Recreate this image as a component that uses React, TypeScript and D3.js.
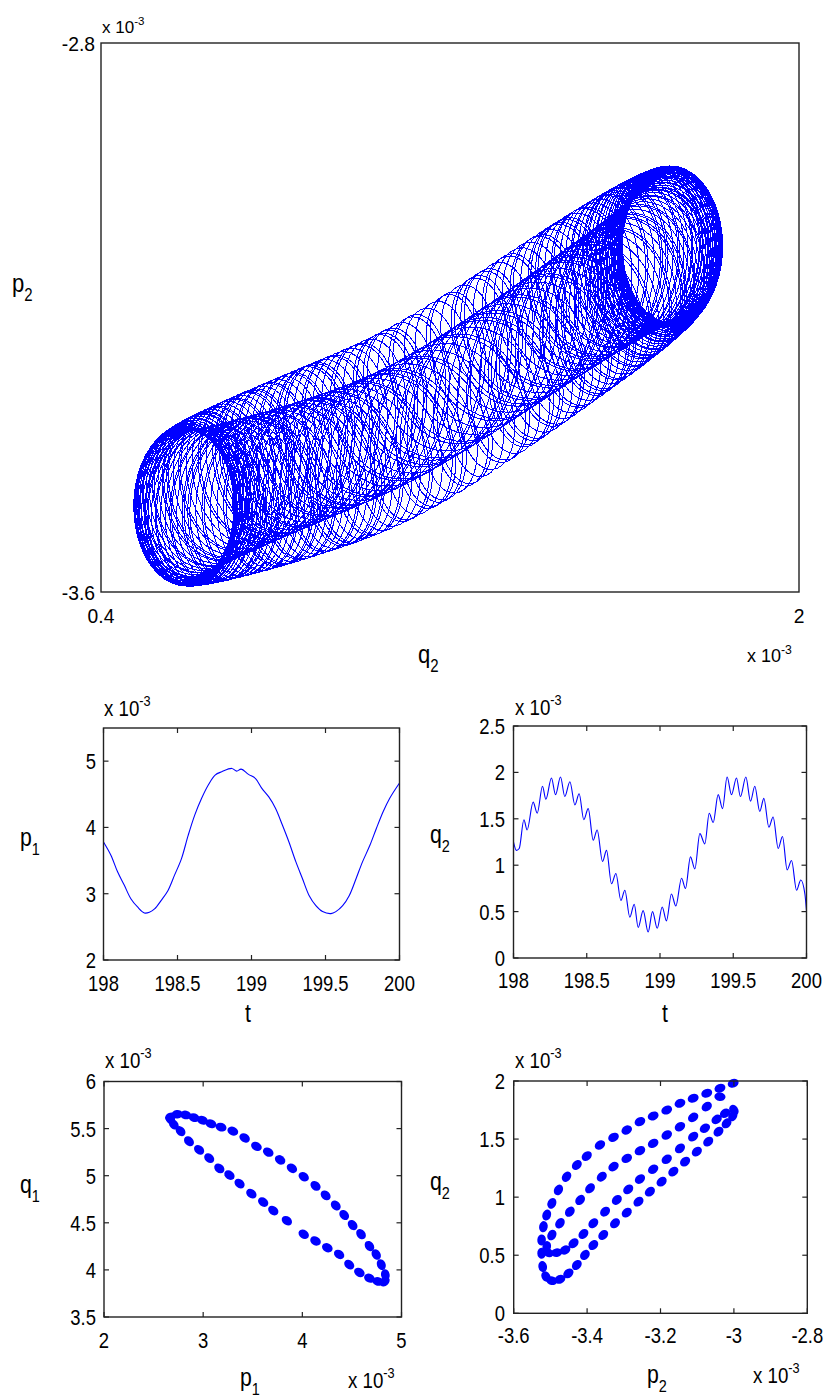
import React from 'react';
import * as d3 from 'd3';

const BLUE = '#0000ff';
const FONT = '"Liberation Sans", Arial, Helvetica, sans-serif';

// ---------- top panel: quasi-periodic tube, parameters ----------
const tubeMidQ2 = [0.59, 0.78, 0.93, 1.09, 1.31, 1.47, 1.62, 1.71];
const tubeMidP2 = [-3.475, -3.433, -3.398, -3.358, -3.269, -3.198, -3.135, -3.096];
const tubeLoopHalf = [0.115, 0.114]; // half extent of the fast loop in q2, p2
const tubeHalfSeparation = [0.028];
const tubeSlowPeriods = [12];
const tubeFastPerSlow = [19.37];

// ---------- middle left: p1(t) ----------
const tP1 = [198.0, 198.05, 198.095, 198.14, 198.186, 198.23, 198.277, 198.31, 198.345, 198.39, 198.436, 198.48, 198.527, 198.572, 198.617, 198.663, 198.708, 198.754, 198.799, 198.867, 198.9, 198.93, 198.98, 199.026, 199.07, 199.117, 199.162, 199.208, 199.253, 199.3, 199.344, 199.39, 199.435, 199.48, 199.537, 199.57, 199.616, 199.66, 199.707, 199.75, 199.8, 199.843, 199.89, 199.934, 200.0];
const p1Vals = [3.78, 3.58, 3.33, 3.13, 2.92, 2.8, 2.71, 2.72, 2.77, 2.9, 3.05, 3.28, 3.53, 3.88, 4.19, 4.44, 4.64, 4.79, 4.84, 4.89, 4.85, 4.88, 4.8, 4.74, 4.59, 4.46, 4.29, 4.04, 3.78, 3.48, 3.23, 2.97, 2.82, 2.73, 2.7, 2.73, 2.82, 2.97, 3.23, 3.48, 3.73, 3.98, 4.24, 4.44, 4.67];

// ---------- middle right: q2(t) ----------
const tQ2 = [198.0, 198.02, 198.039, 198.071, 198.093, 198.134, 198.162, 198.198, 198.221, 198.259, 198.287, 198.321, 198.35, 198.385, 198.419, 198.448, 198.48, 198.51, 198.544, 198.571, 198.608, 198.635, 198.669, 198.699, 198.733, 198.76, 198.794, 198.824, 198.851, 198.885, 198.919, 198.949, 198.981, 199.015, 199.044, 199.078, 199.108, 199.147, 199.174, 199.208, 199.238, 199.272, 199.306, 199.336, 199.363, 199.397, 199.427, 199.458, 199.488, 199.522, 199.549, 199.586, 199.618, 199.647, 199.681, 199.709, 199.743, 199.772, 199.807, 199.836, 199.868, 199.898, 199.932, 199.961, 199.989, 200.0];
const q2Vals = [1.25, 1.16, 1.18, 1.49, 1.38, 1.68, 1.56, 1.85, 1.71, 1.94, 1.76, 1.95, 1.74, 1.9, 1.65, 1.77, 1.49, 1.61, 1.27, 1.38, 1.04, 1.16, 0.8, 0.91, 0.62, 0.73, 0.44, 0.58, 0.33, 0.51, 0.28, 0.5, 0.32, 0.55, 0.4, 0.69, 0.56, 0.86, 0.75, 1.09, 0.96, 1.34, 1.23, 1.56, 1.46, 1.76, 1.61, 1.95, 1.76, 1.94, 1.74, 1.95, 1.69, 1.85, 1.58, 1.72, 1.41, 1.52, 1.18, 1.31, 0.95, 1.05, 0.73, 0.84, 0.69, 0.51];

// ---------- bottom left: q1 vs p1 markers ----------
const p1Pts = [2.67, 2.738, 2.823, 2.908, 2.993, 3.078, 3.18, 3.299, 3.418, 3.537, 3.656, 3.776, 3.895, 4.014, 4.133, 4.235, 4.337, 4.422, 4.507, 4.592, 4.677, 4.745, 4.796, 4.837, 4.83, 4.762, 4.677, 4.575, 4.473, 4.371, 4.252, 4.133, 4.014, 3.844, 3.707, 3.605, 3.486, 3.367, 3.265, 3.163, 3.061, 2.959, 2.857, 2.772, 2.704, 2.67];
const q1Pts = [5.623, 5.652, 5.645, 5.616, 5.588, 5.552, 5.516, 5.473, 5.401, 5.311, 5.25, 5.168, 5.078, 4.989, 4.892, 4.791, 4.684, 4.583, 4.476, 4.379, 4.253, 4.164, 4.056, 3.948, 3.877, 3.877, 3.912, 3.973, 4.056, 4.164, 4.235, 4.307, 4.379, 4.522, 4.63, 4.72, 4.809, 4.917, 5.006, 5.078, 5.186, 5.275, 5.365, 5.473, 5.544, 5.598];

// ---------- bottom right: q2 vs p2 markers ----------
const p2Pts = [-3.002, -3.038, -3.074, -3.111, -3.147, -3.183, -3.22, -3.256, -3.292, -3.328, -3.365, -3.401, -3.428, -3.456, -3.478, -3.496, -3.51, -3.519, -3.524, -3.524, -3.521, -3.512, -3.496, -3.474, -3.451, -3.428, -3.406, -3.383, -3.356, -3.324, -3.292, -3.26, -3.229, -3.197, -3.165, -3.133, -3.101, -3.07, -3.042, -3.02, -3.003, -3.0,
  -3.038, -3.074, -3.111, -3.147, -3.183, -3.22, -3.256, -3.292, -3.328, -3.36, -3.392, -3.419, -3.447, -3.474, -3.496, -3.51,
  -3.506, -3.483, -3.46, -3.437, -3.41, -3.383, -3.351, -3.319, -3.288, -3.256, -3.22, -3.183, -3.147, -3.111, -3.079, -3.047, -3.024];
const q2Pts = [1.98, 1.937, 1.894, 1.851, 1.808, 1.75, 1.699, 1.65, 1.578, 1.515, 1.449, 1.354, 1.277, 1.176, 1.062, 0.947, 0.846, 0.746, 0.631, 0.517, 0.402, 0.316, 0.281, 0.293, 0.344, 0.416, 0.502, 0.588, 0.674, 0.775, 0.867, 0.961, 1.047, 1.133, 1.22, 1.306, 1.392, 1.478, 1.564, 1.636, 1.699, 1.75,
  1.865, 1.779, 1.687, 1.607, 1.535, 1.463, 1.4, 1.334, 1.263, 1.176, 1.076, 0.976, 0.875, 0.775, 0.674, 0.574,
  0.522, 0.522, 0.545, 0.603, 0.683, 0.775, 0.875, 0.976, 1.067, 1.156, 1.24, 1.326, 1.42, 1.521, 1.593, 1.67, 1.722];

const xTicksTop = [0.4, 2];
const yTicksTop = [-3.6, -2.8];
const tTicks = [198, 198.5, 199, 199.5, 200];
const p1Ticks = [2, 3, 4, 5];
const q2TimeTicks = [0, 0.5, 1, 1.5, 2, 2.5];
const p1AxisTicks = [2, 3, 4, 5];
const q1Ticks = [3.5, 4, 4.5, 5, 5.5, 6];
const p2AxisTicks = [-3.6, -3.4, -3.2, -3, -2.8];
const q2AxisTicks = [0, 0.5, 1, 1.5, 2];

type Box = { x0: number; x1: number; y0: number; y1: number };

function Txt(props: { x: number; y: number; size: number; anchor?: string; sx?: number; children: any }) {
  const { x, y, size, anchor = 'start', sx = 1, children } = props;
  return (
    <text transform={`translate(${x},${y}) scale(${sx},1)`} fontSize={size} textAnchor={anchor as any} fontFamily={FONT} fill="#000">
      {children}
    </text>
  );
}

function Sym(props: { x: number; y: number; base: string; sub: string; size?: number; sx?: number }) {
  const { x, y, base, sub, size = 25, sx = 0.85 } = props;
  return (
    <Txt x={x} y={y} size={size} sx={sx}>
      {base}
      <tspan fontSize={size * 0.68} dy={size * 0.36}>{sub}</tspan>
    </Txt>
  );
}

function Exp10(props: { x: number; y: number; size: number; sx?: number }) {
  const { x, y, size, sx = 0.85 } = props;
  return (
    <Txt x={x} y={y} size={size} sx={sx}>
      x 10
      <tspan fontSize={size * 0.68} dy={-size * 0.45}>-3</tspan>
    </Txt>
  );
}

function Frame(props: {
  box: Box;
  xs: d3.ScaleLinear<number, number>;
  ys: d3.ScaleLinear<number, number>;
  xTicks: number[];
  yTicks: number[];
  xLabelY: number;
  yLabelX: number;
  fontSize: number;
  sx: number;
  tickLen: number;
  showTicks: boolean;
}) {
  const { box, xs, ys, xTicks, yTicks, xLabelY, yLabelX, fontSize, sx, tickLen, showTicks } = props;
  const fmt = (v: number) => String(v);
  return (
    <g>
      {showTicks &&
        xTicks.map((t) => (
          <g key={'xt' + t}>
            <line x1={xs(t)} x2={xs(t)} y1={box.y1} y2={box.y1 - tickLen} stroke="#222" strokeWidth={1.2} />
            <line x1={xs(t)} x2={xs(t)} y1={box.y0} y2={box.y0 + tickLen} stroke="#222" strokeWidth={1.2} />
          </g>
        ))}
      {showTicks &&
        yTicks.map((t) => (
          <g key={'yt' + t}>
            <line x1={box.x0} x2={box.x0 + tickLen} y1={ys(t)} y2={ys(t)} stroke="#222" strokeWidth={1.2} />
            <line x1={box.x1} x2={box.x1 - tickLen} y1={ys(t)} y2={ys(t)} stroke="#222" strokeWidth={1.2} />
          </g>
        ))}
      <rect x={box.x0} y={box.y0} width={box.x1 - box.x0} height={box.y1 - box.y0} fill="none" stroke="#222" strokeWidth={1.4} />
      {xTicks.map((t) => (
        <Txt key={'xl' + t} x={xs(t)} y={xLabelY} size={fontSize} sx={sx} anchor="middle">
          {fmt(t)}
        </Txt>
      ))}
      {yTicks.map((t) => (
        <Txt key={'yl' + t} x={yLabelX} y={ys(t) + fontSize * 0.36} size={fontSize} sx={sx} anchor="end">
          {fmt(t)}
        </Txt>
      ))}
    </g>
  );
}

function tubePoints(): [number, number][] {
  const qOf = d3.interpolateBasis(tubeMidQ2);
  const pOf = d3.interpolateBasis(tubeMidP2);
  const K = tubeSlowPeriods[0];
  const N = tubeFastPerSlow[0];
  const perFast = 44;
  const M = Math.round(K * N * perFast);
  const pts: [number, number][] = [];
  for (let i = 0; i <= M; i++) {
    const th = (2 * Math.PI * K * i) / M;
    const s = (1 - Math.cos(th)) / 2;
    const ph = N * th;
    const q = qOf(s) + tubeLoopHalf[0] * Math.cos(ph);
    const p = pOf(s) + tubeHalfSeparation[0] * Math.sin(th) + tubeLoopHalf[1] * Math.sin(ph);
    pts.push([q, p]);
  }
  return pts;
}

function Blobs(props: { xs: number[]; ys: number[]; sx: d3.ScaleLinear<number, number>; sy: d3.ScaleLinear<number, number>; id: string }) {
  const { xs, ys, sx, sy, id } = props;
  const px = xs.map((v) => sx(v));
  const py = ys.map((v) => sy(v));
  return (
    <g>
      {px.map((x, i) => {
        const a = Math.max(0, i - 1);
        const b = Math.min(px.length - 1, i + 1);
        const ang = (Math.atan2(py[b] - py[a], px[b] - px[a]) * 180) / Math.PI;
        return <ellipse key={id + i} cx={x} cy={py[i]} rx={5.6} ry={4.3} transform={`rotate(${ang},${x},${py[i]})`} fill={BLUE} />;
      })}
    </g>
  );
}

export default function App() {
  // top
  const bT: Box = { x0: 101, x1: 799, y0: 43, y1: 592 };
  const xT = d3.scaleLinear().domain([0.4, 2]).range([bT.x0, bT.x1]);
  const yT = d3.scaleLinear().domain([-3.6, -2.8]).range([bT.y1, bT.y0]);
  const tube = tubePoints();
  const tubePath = d3.line<[number, number]>().x((d) => xT(d[0])).y((d) => yT(d[1]))(tube) || '';

  // middle left
  const bML: Box = { x0: 103.5, x1: 399.5, y0: 728, y1: 960 };
  const xML = d3.scaleLinear().domain([198, 200]).range([bML.x0, bML.x1]);
  const yML = d3.scaleLinear().domain([2, 5.5]).range([bML.y1, bML.y0]);
  const p1Path = d3.line<number>().x((_, i) => xML(tP1[i])).y((d) => yML(d)).curve(d3.curveCatmullRom)(p1Vals) || '';

  // middle right
  const bMR: Box = { x0: 513.5, x1: 806.5, y0: 726, y1: 958 };
  const xMR = d3.scaleLinear().domain([198, 200]).range([bMR.x0, bMR.x1]);
  const yMR = d3.scaleLinear().domain([0, 2.5]).range([bMR.y1, bMR.y0]);
  const q2Path = d3.line<number>().x((_, i) => xMR(tQ2[i])).y((d) => yMR(d)).curve(d3.curveMonotoneX)(q2Vals) || '';

  // bottom left
  const bBL: Box = { x0: 104, x1: 401.5, y0: 1081.5, y1: 1317 };
  const xBL = d3.scaleLinear().domain([2, 5]).range([bBL.x0, bBL.x1]);
  const yBL = d3.scaleLinear().domain([3.5, 6]).range([bBL.y1, bBL.y0]);

  // bottom right
  const bBR: Box = { x0: 513.7, x1: 807.3, y0: 1081, y1: 1313.3 };
  const xBR = d3.scaleLinear().domain([-3.6, -2.8]).range([bBR.x0, bBR.x1]);
  const yBR = d3.scaleLinear().domain([0, 2]).range([bBR.y1, bBR.y0]);

  const tf = 22;
  const tsx = 0.84;

  return (
    <svg width={825} height={1400} style={{ position: 'absolute', left: 0, top: 0, background: '#fff' }}>
      <rect x={0} y={0} width={825} height={1400} fill="#fff" />
      {/* TOP */}
      <path d={tubePath} fill="none" stroke={BLUE} strokeWidth={1} shapeRendering="crispEdges" />
      <Frame box={bT} xs={xT} ys={yT} xTicks={xTicksTop} yTicks={yTicksTop} xLabelY={623} yLabelX={95} fontSize={21} sx={0.92} tickLen={0} showTicks={false} />
      <Exp10 x={102} y={33} size={17} sx={1} />
      <Exp10 x={747} y={662} size={18} sx={1} />
      <Sym x={12} y={292} base="p" sub="2" size={26} />
      <Sym x={418} y={663} base="q" sub="2" size={26} />

      {/* MIDDLE LEFT */}
      <path d={p1Path} fill="none" stroke={BLUE} strokeWidth={1.1} />
      <Frame box={bML} xs={xML} ys={yML} xTicks={tTicks} yTicks={p1Ticks} xLabelY={991} yLabelX={96} fontSize={tf} sx={tsx} tickLen={5} showTicks={true} />
      <Exp10 x={104} y={716} size={22} />
      <Sym x={20} y={846} base="p" sub="1" />
      <Txt x={248} y={1022} size={25} sx={0.85} anchor="middle">t</Txt>

      {/* MIDDLE RIGHT */}
      <path d={q2Path} fill="none" stroke={BLUE} strokeWidth={1.1} />
      <Frame box={bMR} xs={xMR} ys={yMR} xTicks={tTicks} yTicks={q2TimeTicks} xLabelY={988} yLabelX={505} fontSize={tf} sx={tsx} tickLen={5} showTicks={true} />
      <Exp10 x={515} y={715} size={22} />
      <Sym x={430} y={843} base="q" sub="2" />
      <Txt x={665} y={1022} size={25} sx={0.85} anchor="middle">t</Txt>

      {/* BOTTOM LEFT */}
      <Blobs xs={p1Pts} ys={q1Pts} sx={xBL} sy={yBL} id="bl" />
      <Frame box={bBL} xs={xBL} ys={yBL} xTicks={p1AxisTicks} yTicks={q1Ticks} xLabelY={1348} yLabelX={96} fontSize={tf} sx={tsx} tickLen={5} showTicks={true} />
      <Exp10 x={105} y={1068} size={22} />
      <Sym x={20} y={1193} base="q" sub="1" />
      <Sym x={240} y={1386} base="p" sub="1" />
      <Exp10 x={348} y={1388} size={22} />

      {/* BOTTOM RIGHT */}
      <Blobs xs={p2Pts} ys={q2Pts} sx={xBR} sy={yBR} id="br" />
      <Frame box={bBR} xs={xBR} ys={yBR} xTicks={p2AxisTicks} yTicks={q2AxisTicks} xLabelY={1343} yLabelX={505} fontSize={tf} sx={tsx} tickLen={5} showTicks={true} />
      <Exp10 x={515} y={1068} size={22} />
      <Sym x={430} y={1190} base="q" sub="2" />
      <Sym x={647} y={1383} base="p" sub="2" />
      <Exp10 x={753} y={1383} size={22} />
    </svg>
  );
}
